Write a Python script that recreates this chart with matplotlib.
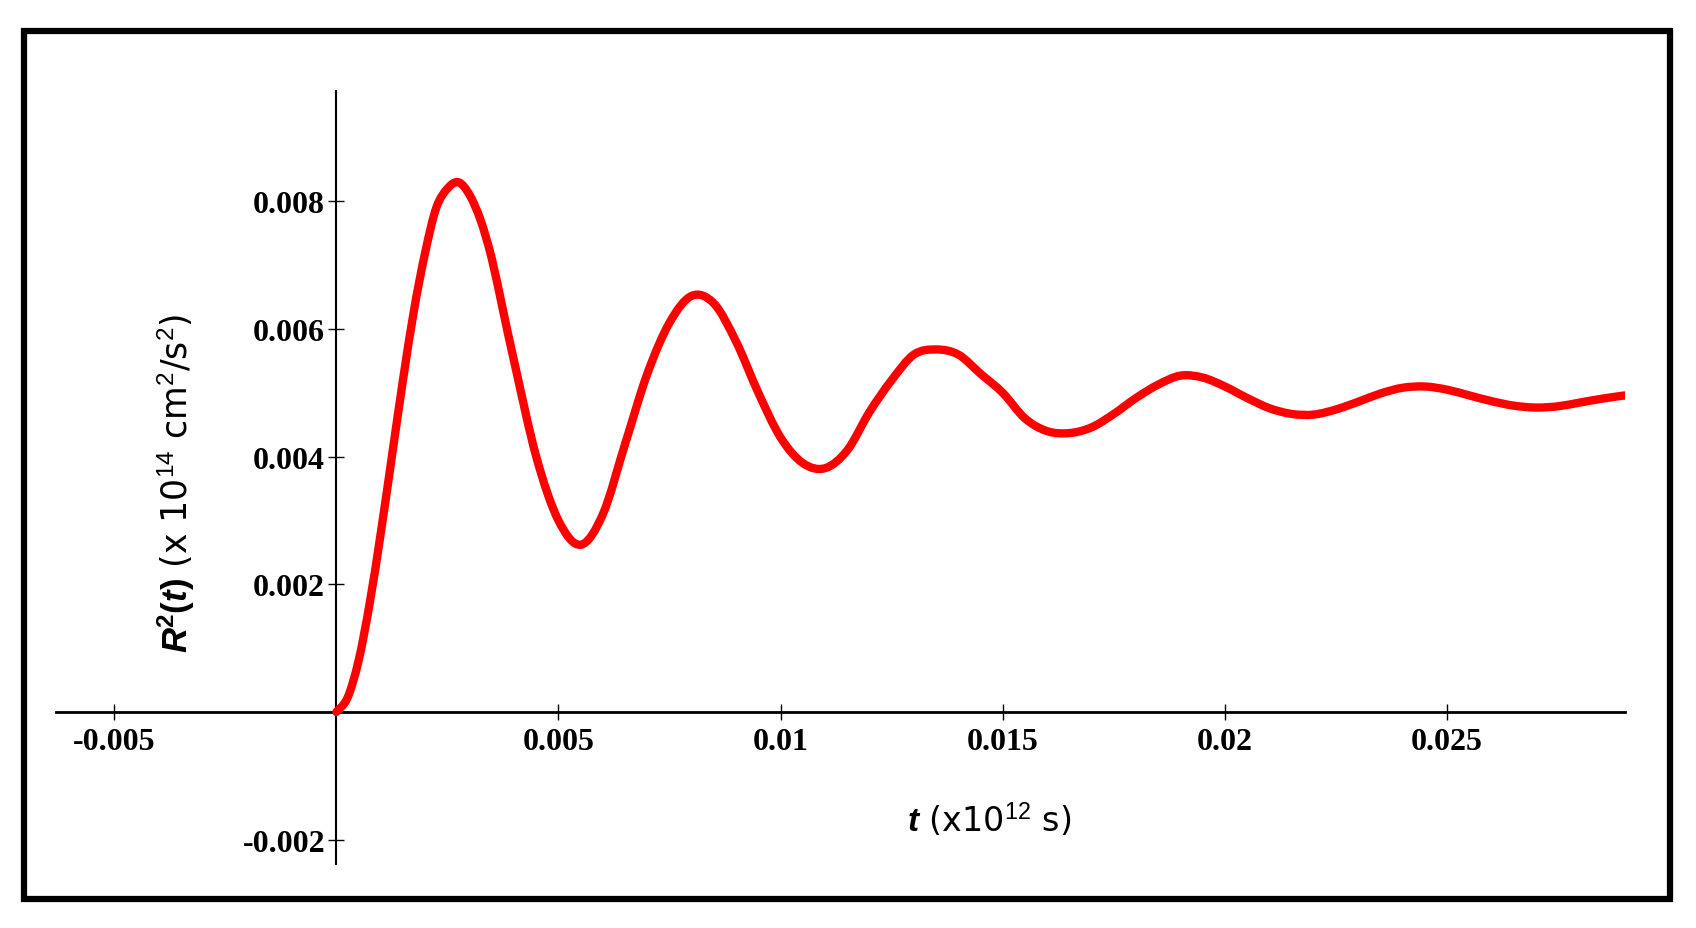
import matplotlib
matplotlib.use("Agg")
import matplotlib.pyplot as plt
from matplotlib.patches import Rectangle, PathPatch
from matplotlib.path import Path

plt.rcParams.update({
    "mathtext.fontset": "custom",
    "mathtext.rm": "Liberation Sans",
    "mathtext.it": "Liberation Sans:italic",
    "mathtext.bf": "Liberation Sans:bold",
    "mathtext.bfit": "Liberation Sans:bold:italic",
})

t = [0, .00025, .0005, .00075, .001, .00125, .0015, .00175, .002, .00225, .0025, .00275, .003, .00325, .0035,
     .00375, .004, .0045, .005, .0055, .006, .0065, .007, .0075, .008, .0085, .009, .0095, .01,
     .0105, .011, .0115, .012, .0125, .013, .0135, .014, .0145, .015, .0155, .016, .0165,
     .017, .0175, .018, .0185, .019, .0195, .020, .0205, .021, .0215, .022, .0225, .023, .0235,
     .024, .0245, .025, .0255, .026, .0265, .027, .0275, .028, .0285, .029]
R = [0, .00022, .0008, .0017, .0028, .0040, .0052, .0063, .0072, .0079, .0082, .0083, .0081, .0077, .0071,
     .0063, .0055, .0040, .0030, .00262, .0031, .0042, .0053, .0061, .00652, .0064, .0058, .0050, .0043,
     .0039, .00382, .0041, .0047, .0052, .0056, .00568, .0056, .0053, .0050, .0046, .0044, .00437,
     .00446, .00467, .00492, .00513, .00527, .00524, .00510, .00492, .00476, .00467, .00466, .00474, .00486, .00499,
     .00508, .00510, .00505, .00496, .00487, .00480, .00477, .00479, .00485, .00491, .00496]
xticks = [-0.005, 0.005, 0.01, 0.015, 0.02, 0.025]
xticklabels = ["-0.005", "0.005", "0.01", "0.015", "0.02", "0.025"]
yticks = [-0.002, 0.002, 0.004, 0.006, 0.008]
yticklabels = ["-0.002", "0.002", "0.004", "0.006", "0.008"]

fig = plt.figure(figsize=(16.96, 9.29), dpi=100)
ax = fig.add_axes([0.033, 0.069, 0.925, 0.832])

# smooth Catmull-Rom curve through the read points, drawn as Bezier path
verts = [(t[0], R[0])]
codes = [Path.MOVETO]
n = len(t)
for i in range(n - 1):
    p0 = (t[max(i - 1, 0)], R[max(i - 1, 0)])
    p1 = (t[i], R[i])
    p2 = (t[i + 1], R[i + 1])
    p3 = (t[min(i + 2, n - 1)], R[min(i + 2, n - 1)])
    c1 = (p1[0] + (p2[0] - p0[0]) / 6, p1[1] + (p2[1] - p0[1]) / 6)
    c2 = (p2[0] - (p3[0] - p1[0]) / 6, p2[1] - (p3[1] - p1[1]) / 6)
    verts += [c1, c2, p2]
    codes += [Path.CURVE4] * 3
ax.add_patch(PathPatch(Path(verts, codes), fill=False, ec="#ff0000", lw=6,
                       capstyle="round", joinstyle="round", zorder=3))

ax.set_xlim(-0.00631, 0.0290)
ax.set_ylim(-0.00238, 0.00973)
for s in ["top", "right"]:
    ax.spines[s].set_visible(False)
ax.spines["left"].set_position(("data", 0))
ax.spines["bottom"].set_position(("data", 0))
ax.spines["left"].set_linewidth(1.5)
ax.spines["bottom"].set_linewidth(2)
ax.set_xticks(xticks)
ax.set_xticklabels(xticklabels)
ax.set_yticks(yticks)
ax.set_yticklabels(yticklabels)
ax.tick_params(direction="inout", length=12, width=1, pad=2)
for lab in ax.get_xticklabels() + ax.get_yticklabels():
    lab.set_fontfamily("Liberation Serif")
    lab.set_fontweight("bold")
    lab.set_fontsize(23)
ax.tick_params(axis="x", pad=5)

fig.text(0.535, 0.118, r"$\boldsymbol{t}$ (x10$^{12}$ s)", fontsize=24, ha="left", va="center")
fig.text(0.104, 0.48, r"$\boldsymbol{R}^{\mathbf{2}}\mathbf{(}\boldsymbol{t}\mathbf{)}$ (x 10$^{14}$ cm$^{2}$/s$^{2}$)",
         fontsize=25, rotation=90, ha="center", va="center")

fig.patches.append(Rectangle((24/1696, 1 - 900/929), (1670 - 24)/1696, (900 - 32)/929,
                             transform=fig.transFigure, fill=False, lw=4.5, ec="black"))
fig.savefig("out.png", dpi=100, facecolor="white")
